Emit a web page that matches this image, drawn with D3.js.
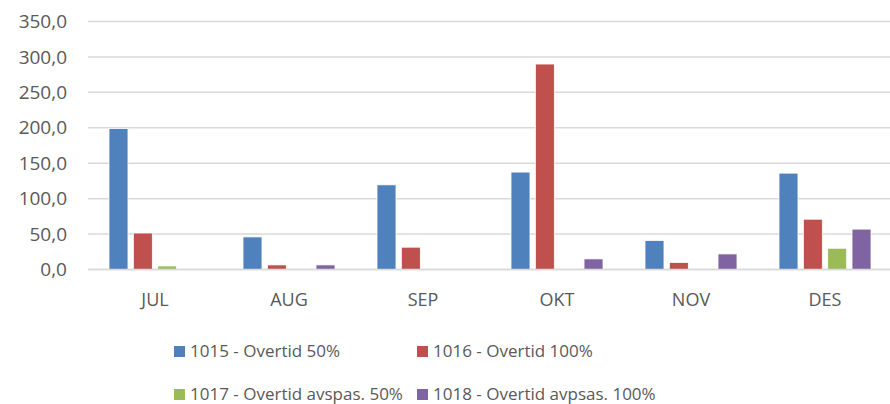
<!DOCTYPE html>
<html lang="no">
<head>
    <meta charset="UTF-8">
    <title>Overtid</title>
    <script src="https://d3js.org/d3.v7.min.js"></script>
    <style>
        body { margin: 0; background: white; }
        text {
            font-family: 'Open Sans', sans-serif;
            fill: #595959;
        }
        .grid line { stroke: #d9d9d9; stroke-width: 1.5; }
    </style>
</head>
<body>
<script>

    const width = 890;
    const height = 404;

    const months = ['JUL', 'AUG', 'SEP', 'OKT', 'NOV', 'DES'];
    const seriesNames = [
        '1015 - Overtid 50%',
        '1016 - Overtid 100%',
        '1017 - Overtid avspas. 50%',
        '1018 - Overtid avpsas. 100%'
    ];
    const overtid50 = [199, 46, 119.5, 137.5, 41, 136];
    const overtid100 = [51.5, 6.5, 31.5, 290, 10, 71];
    const avspas50 = [5, 0, 0, 0.4, 0, 30];
    const avspas100 = [0, 6.5, 0, 15, 22, 57];
    const yTicks = [0, 50, 100, 150, 200, 250, 300, 350];

    const colors = ['#4f81bd', '#c0504d', '#9bbb59', '#8064a2'];
    const values = [overtid50, overtid100, avspas50, avspas100];

    const svg = d3.select('body').append('svg').attr('width', width).attr('height', height);

    const x = d3.scaleBand().domain(months).range([88, 892]).padding(0);
    const x1 = d3.scaleBand().domain(d3.range(4)).range([21, 113]).paddingInner(0.22).paddingOuter(0);
    const y = d3.scaleLinear().domain([0, 350]).range([269.5, 21.5]);
    const fmt = d => d3.format('.1f')(d).replace('.', ',');

    // gridlines
    svg.append('g').attr('class', 'grid')
        .selectAll('line').data(yTicks).enter().append('line')
        .attr('x1', 88).attr('x2', 890)
        .attr('y1', d => y(d)).attr('y2', d => y(d));

    // y labels
    svg.append('g').selectAll('text').data(yTicks).enter().append('text')
        .attr('x', 67).attr('y', d => y(d))
        .attr('dy', '0.35em')
        .attr('text-anchor', 'end')
        .style('font-size', '19px')
        .text(fmt);

    // bars
    const groups = svg.append('g').selectAll('g').data(months).enter().append('g')
        .attr('transform', d => `translate(${x(d)},0)`);
    groups.selectAll('rect')
        .data((m, i) => values.map((s, k) => ({k: k, v: s[i]})))
        .enter().append('rect')
        .attr('x', d => x1(d.k))
        .attr('width', x1.bandwidth())
        .attr('y', d => y(d.v))
        .attr('height', d => y(0) - y(d.v))
        .attr('fill', d => colors[d.k])
        .attr('stroke', 'white')
        .attr('stroke-width', 0.8);

    // axis line on top
    svg.append('line').attr('x1', 88).attr('x2', 890)
        .attr('y1', y(0)).attr('y2', y(0))
        .attr('stroke', '#d9d9d9').attr('stroke-width', 1.5);

    // x labels
    svg.append('g').selectAll('text').data(months).enter().append('text')
        .attr('x', d => x(d) + x.bandwidth() / 2)
        .attr('y', 305.5)
        .attr('text-anchor', 'middle')
        .style('font-size', '18px')
        .text(d => d);

    // legend
    const legendPos = [[174, 357], [417, 357], [174, 400], [417, 400]];
    const legend = svg.append('g').selectAll('g').data(seriesNames).enter().append('g')
        .attr('transform', (d, i) => `translate(${legendPos[i]})`);
    legend.append('rect')
        .attr('x', 0).attr('y', -11).attr('width', 11).attr('height', 11)
        .attr('fill', (d, i) => colors[i]);
    legend.append('text')
        .attr('x', 16).attr('y', 0)
        .style('font-size', '17px')
        .text(d => d);

</script>
</body>
</html>
